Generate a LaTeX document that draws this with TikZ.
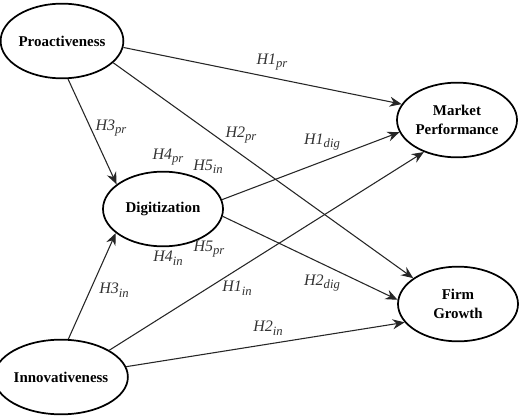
\documentclass[tikz,border=0pt]{standalone}
\usepackage{fontspec}
\setmainfont{Liberation Serif}
\usetikzlibrary{arrows.meta,shapes.geometric}
\tikzset{
  construct/.style={draw, ellipse, line width=1.3pt, minimum width=90pt, minimum height=56pt,
    inner sep=0pt, align=center, font=\bfseries\fontsize{11.2}{14}\selectfont},
  arr/.style={draw=black!85, line width=0.8pt, -{Stealth[length=9pt,width=7.5pt,inset=3pt]}},
  hlab/.style={inner sep=0pt, font=\itshape\fontsize{12}{14}\selectfont, text=black!80}
}
\newcommand{\hyp}[2]{#1\raisebox{-2.6pt}{\fontsize{9.5}{10}\selectfont #2}}
\begin{document}
\begin{tikzpicture}[x=0.75pt,y=-0.75pt]
\useasboundingbox[fill=white] (0,0) rectangle (520,417);
\node[construct] (pro) at (62,41) {Proactiveness};
\node[construct] (mp) at (457,120) {Market\\Performance};
\node[construct] (fg) at (458,304) {Firm\\Growth};
\node[construct] (dig) at (163,209) {Digitization};
\node[construct] (inn) at (61,377) {Innovativeness};

\draw[arr] (pro.-6) -- (mp.164);
\draw[arr] (pro.-23) -- (fg.150);
\draw[arr] (pro.-81) -- (dig.152);
\draw[arr] (dig.9) -- (mp.192);
\draw[arr] (dig.-7) -- (fg.176);
\draw[arr] (inn.79) -- (dig.207);
\draw[arr] (inn.29) -- (mp.224);
\draw[arr] (inn.9) -- (fg.199);

\node[hlab] (l1pr) at (272,62) {\hyp{H1}{pr}};
\node[hlab] (l2pr) at (241,135) {\hyp{H2}{pr}};
\node[hlab] (l3pr) at (111,128) {\hyp{H3}{pr}};
\node[hlab] (l4pr) at (168,157) {\hyp{H4}{pr}};
\node[hlab] (l5in) at (208,167) {\hyp{H5}{in}};
\node[hlab] (l1dig) at (322,142) {\hyp{H1}{dig}};
\node[hlab] (l4in) at (168,258) {\hyp{H4}{in}};
\node[hlab] (l5pr) at (209,249) {\hyp{H5}{pr}};
\node[hlab] (l1in) at (237,288) {\hyp{H1}{in}};
\node[hlab] (l2dig) at (322,283) {\hyp{H2}{dig}};
\node[hlab] (l2in) at (268,328) {\hyp{H2}{in}};
\node[hlab] (l3in) at (114,290) {\hyp{H3}{in}};
\end{tikzpicture}
\end{document}
